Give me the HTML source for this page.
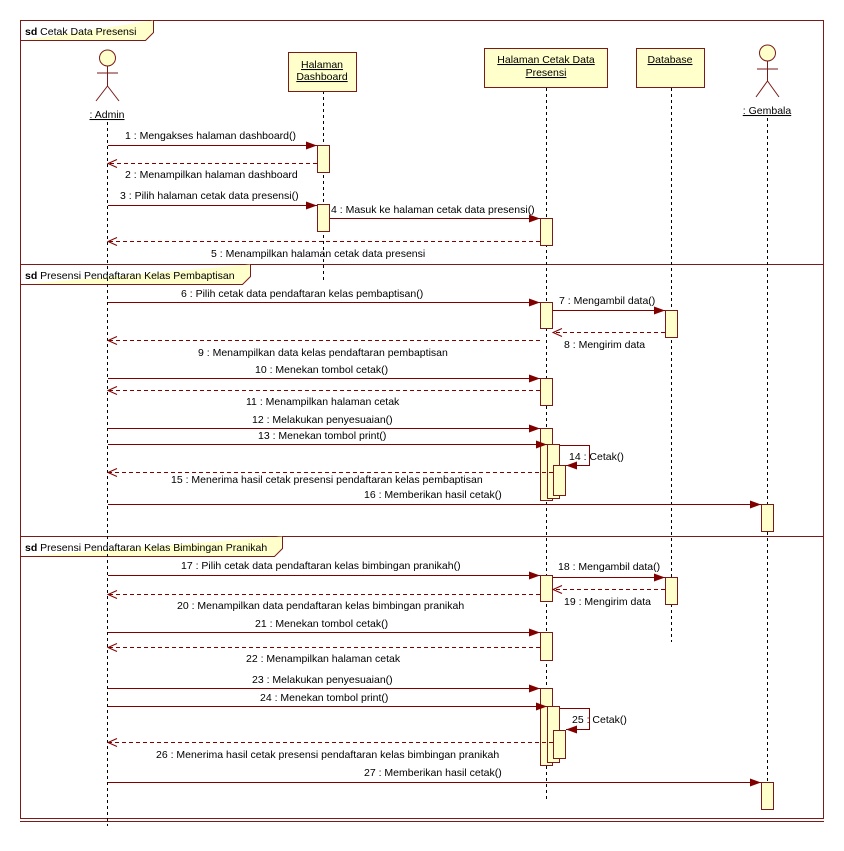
<!DOCTYPE html>
<html><head><meta charset="utf-8"><style>
html,body{margin:0;padding:0;background:#fff;}
svg text{font-family:"Liberation Sans",sans-serif;font-size:10.5px;fill:#000;}
</style></head><body>
<svg width="844" height="846" xmlns="http://www.w3.org/2000/svg">
<defs>
<marker id="f" markerWidth="12" markerHeight="10" refX="11" refY="5" orient="auto" markerUnits="userSpaceOnUse"><path d="M0,1 L11,5 L0,9 z" fill="#800000"/></marker>
<marker id="o" markerWidth="12" markerHeight="10" refX="10" refY="5" orient="auto" markerUnits="userSpaceOnUse"><path d="M1,1 L10,5 L1,9" fill="none" stroke="#800000"/></marker>
</defs>
<g stroke="#7a1a1a" fill="none">
<rect x="20.5" y="20.5" width="803" height="798"/>
<line x1="20" y1="821.5" x2="824" y2="821.5"/>
<line x1="20" y1="264.5" x2="824" y2="264.5"/>
<line x1="20" y1="536.5" x2="824" y2="536.5"/>
<path d="M20.5,40.5 H145.5 L153.5,32.5 V20.5" fill="#ffffcc"/>
<path d="M20.5,284.5 H242.5 L250.5,276.5 V264.5" fill="#ffffcc"/>
<path d="M20.5,556.5 H274.5 L282.5,548.5 V536.5" fill="#ffffcc"/>
</g>
<text x="25" y="35"><tspan font-weight="bold">sd</tspan> Cetak Data Presensi</text>
<text x="25" y="279"><tspan font-weight="bold">sd</tspan> Presensi Pendaftaran Kelas Pembaptisan</text>
<text x="25" y="551"><tspan font-weight="bold">sd</tspan> Presensi Pendaftaran Kelas Bimbingan Pranikah</text>

<g stroke="#000" stroke-dasharray="3,3">
<line x1="107.5" y1="122" x2="107.5" y2="826"/>
<line x1="323.5" y1="91" x2="323.5" y2="280"/>
<line x1="546.5" y1="88" x2="546.5" y2="800"/>
<line x1="671.5" y1="88" x2="671.5" y2="642"/>
<line x1="767.5" y1="118" x2="767.5" y2="810"/>
</g>

<g stroke="#7a1a1a" fill="#ffffcc">
<rect x="288.5" y="52.5" width="68" height="39"/>
<rect x="484.5" y="48.5" width="123" height="39"/>
<rect x="636.5" y="48.5" width="68" height="39"/>
<circle cx="107.5" cy="58" r="8"/>
<circle cx="767.5" cy="53" r="8"/>
</g>
<g stroke="#7a1a1a" fill="none">
<path d="M107.5,66 V86 M97,73 H118 M107.5,86 L96,101 M107.5,86 L119,101"/>
<path d="M767.5,61 V81 M757,69 H778 M767.5,81 L756,97 M767.5,81 L779,97"/>
</g>
<g text-anchor="middle">
<text x="322" y="68" text-decoration="underline">Halaman</text>
<text x="322" y="80" text-decoration="underline">Dashboard</text>
<text x="546" y="63" text-decoration="underline">Halaman Cetak Data</text>
<text x="546" y="76" text-decoration="underline">Presensi</text>
<text x="670" y="63" text-decoration="underline">Database</text>
<text x="107" y="118" text-decoration="underline">: Admin</text>
<text x="767" y="114" text-decoration="underline">: Gembala</text>
</g>

<g stroke="#7a1a1a" fill="#ffffcc">
<rect x="317.5" y="145.5" width="12" height="27"/>
<rect x="317.5" y="204.5" width="12" height="27"/>
<rect x="540.5" y="218.5" width="12" height="27"/>
<rect x="540.5" y="302.5" width="12" height="26"/>
<rect x="665.5" y="310.5" width="12" height="27"/>
<rect x="540.5" y="378.5" width="12" height="27"/>
<rect x="540.5" y="428.5" width="12" height="72"/>
<rect x="547.5" y="444.5" width="12" height="54"/>
<rect x="553.5" y="465.5" width="12" height="30"/>
<rect x="761.5" y="504.5" width="12" height="27"/>
<rect x="540.5" y="575.5" width="12" height="26"/>
<rect x="665.5" y="577.5" width="12" height="27"/>
<rect x="540.5" y="632.5" width="12" height="28"/>
<rect x="540.5" y="688.5" width="12" height="77"/>
<rect x="547.5" y="706.5" width="12" height="56"/>
<rect x="553.5" y="730.5" width="12" height="28"/>
<rect x="761.5" y="782.5" width="12" height="27"/>
</g>

<g stroke="#800000" fill="none" marker-end="url(#f)">
<line x1="108" y1="145.5" x2="317" y2="145.5"/>
<line x1="108" y1="205.5" x2="317" y2="205.5"/>
<line x1="330" y1="218.5" x2="540" y2="218.5"/>
<line x1="108" y1="302.5" x2="540" y2="302.5"/>
<line x1="553" y1="310.5" x2="665" y2="310.5"/>
<line x1="108" y1="378.5" x2="540" y2="378.5"/>
<line x1="108" y1="428.5" x2="540" y2="428.5"/>
<line x1="108" y1="444.5" x2="547" y2="444.5"/>
<path d="M560,445.5 H589.5 V465.5 H566"/>
<line x1="108" y1="504.5" x2="761" y2="504.5"/>
<line x1="108" y1="575.5" x2="540" y2="575.5"/>
<line x1="553" y1="577.5" x2="665" y2="577.5"/>
<line x1="108" y1="632.5" x2="540" y2="632.5"/>
<line x1="108" y1="688.5" x2="540" y2="688.5"/>
<line x1="108" y1="706.5" x2="547" y2="706.5"/>
<path d="M560,708.5 H589.5 V729.5 H566"/>
<line x1="108" y1="782.5" x2="761" y2="782.5"/>
</g>
<g stroke="#800000" fill="none" stroke-dasharray="4,3" marker-end="url(#o)">
<line x1="317" y1="163.5" x2="108" y2="163.5"/>
<line x1="540" y1="241.5" x2="108" y2="241.5"/>
<line x1="665" y1="332.5" x2="553" y2="332.5"/>
<line x1="540" y1="340.5" x2="108" y2="340.5"/>
<line x1="540" y1="390.5" x2="108" y2="390.5"/>
<line x1="553" y1="472.5" x2="108" y2="472.5"/>
<line x1="665" y1="589.5" x2="553" y2="589.5"/>
<line x1="540" y1="594.5" x2="108" y2="594.5"/>
<line x1="540" y1="647.5" x2="108" y2="647.5"/>
<line x1="553" y1="742.5" x2="108" y2="742.5"/>
</g>

<g>
<text x="125" y="139">1 : Mengakses halaman dashboard()</text>
<text x="125" y="178">2 : Menampilkan halaman dashboard</text>
<text x="120" y="199">3 : Pilih halaman cetak data presensi()</text>
<text x="331" y="213">4 : Masuk ke halaman cetak data presensi()</text>
<text x="211" y="257">5 : Menampilkan halaman cetak data presensi</text>
<text x="181" y="297">6 : Pilih cetak data pendaftaran kelas pembaptisan()</text>
<text x="559" y="304">7 : Mengambil data()</text>
<text x="564" y="348">8 : Mengirim data</text>
<text x="198" y="356">9 : Menampilkan data kelas pendaftaran pembaptisan</text>
<text x="255" y="373">10 : Menekan tombol cetak()</text>
<text x="246" y="405">11 : Menampilkan halaman cetak</text>
<text x="252" y="423">12 : Melakukan penyesuaian()</text>
<text x="258" y="439">13 : Menekan tombol print()</text>
<text x="569" y="460">14 : Cetak()</text>
<text x="171" y="483">15 : Menerima hasil cetak presensi pendaftaran kelas pembaptisan</text>
<text x="364" y="498">16 : Memberikan hasil cetak()</text>
<text x="181" y="569">17 : Pilih cetak data pendaftaran kelas bimbingan pranikah()</text>
<text x="558" y="570">18 : Mengambil data()</text>
<text x="564" y="605">19 : Mengirim data</text>
<text x="177" y="609">20 : Menampilkan data pendaftaran kelas bimbingan pranikah</text>
<text x="255" y="627">21 : Menekan tombol cetak()</text>
<text x="246" y="662">22 : Menampilkan halaman cetak</text>
<text x="252" y="683">23 : Melakukan penyesuaian()</text>
<text x="260" y="701">24 : Menekan tombol print()</text>
<text x="572" y="723">25 : Cetak()</text>
<text x="156" y="758">26 : Menerima hasil cetak presensi pendaftaran kelas bimbingan pranikah</text>
<text x="364" y="776">27 : Memberikan hasil cetak()</text>
</g>
</svg>
</body></html>
